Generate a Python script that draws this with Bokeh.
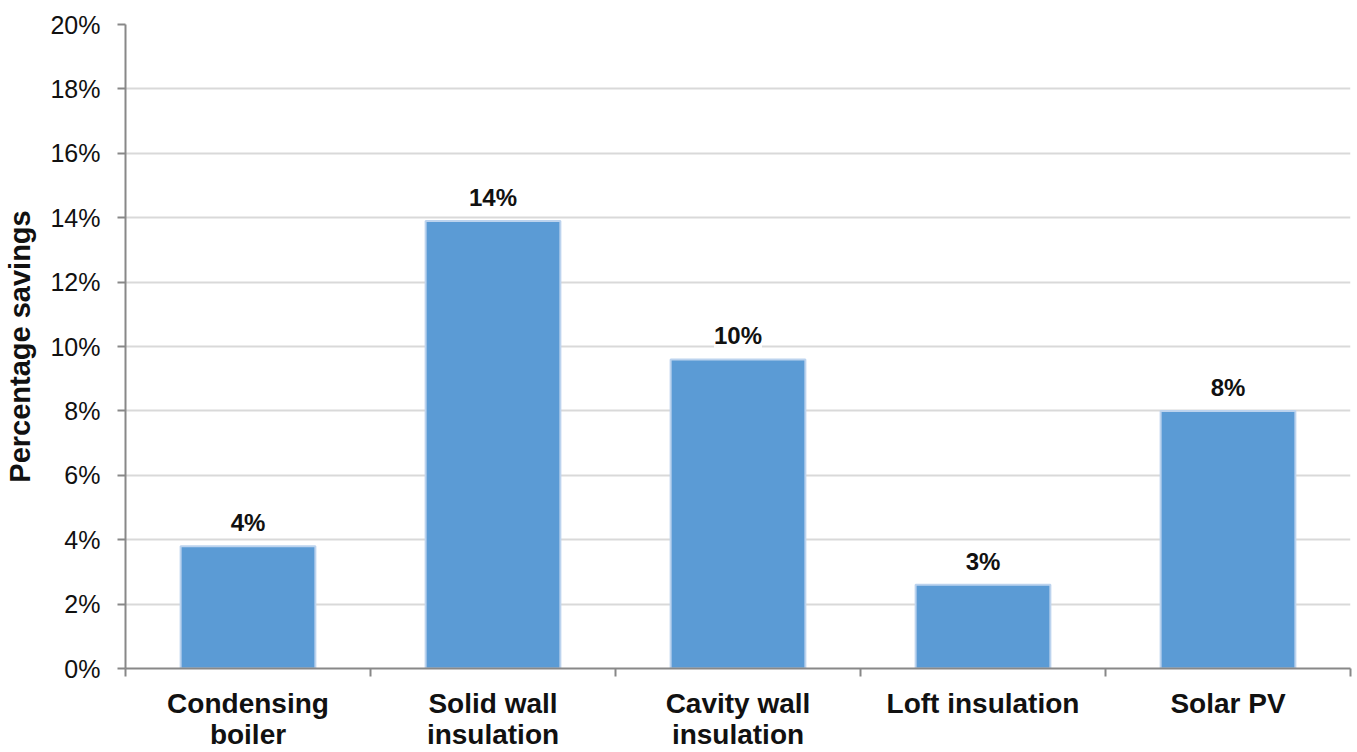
from bokeh.plotting import figure
from bokeh.models import ColumnDataSource, FixedTicker, NumeralTickFormatter, LabelSet, Range1d
from bokeh.core.properties import value
from bokeh.embed import file_html
from bokeh.resources import INLINE

categories = ["Condensing\nboiler", "Solid wall\ninsulation", "Cavity wall\ninsulation", "Loft insulation", "Solar PV"]
savings = [0.038, 0.139, 0.096, 0.026, 0.080]
labels = ["4%", "14%", "10%", "3%", "8%"]
y_ticks = [0.0, 0.02, 0.04, 0.06, 0.08, 0.10, 0.12, 0.14, 0.16, 0.18, 0.20]

xs = [i + 0.5 for i in range(len(categories))]
src = ColumnDataSource(dict(x=xs, top=savings, label=labels))

p = figure(width=1357, height=752, output_backend="svg", toolbar_location=None,
           x_range=Range1d(0, len(categories)), y_range=Range1d(0, 0.20),
           min_border_left=125, min_border_right=7, min_border_top=24, min_border_bottom=83)
p.outline_line_color = None
p.background_fill_color = "white"

p.vbar(x="x", top="top", width=0.55, bottom=0, source=src,
       fill_color="#5B9BD5", line_color="#BCD3EE", line_width=2)

lab = LabelSet(x="x", y="top", text="label", source=src, y_offset=10,
               text_align="center", text_baseline="bottom",
               text_font=value("Liberation Sans"), text_font_style="bold", text_font_size="24px",
               text_color="#111111", background_fill_color="white", background_fill_alpha=0.85)
p.add_layout(lab)

# y axis
p.yaxis.ticker = FixedTicker(ticks=y_ticks, minor_ticks=[])
p.yaxis.formatter = NumeralTickFormatter(format="0%")
p.yaxis.axis_label = "Percentage savings"
p.yaxis.axis_label_text_font = "Liberation Sans"
p.yaxis.axis_label_text_font_style = "bold"
p.yaxis.axis_label_text_font_size = "29px"
p.yaxis.axis_label_text_color = "#111111"
p.yaxis.axis_label_standoff = 11
p.yaxis.major_label_text_font = "Liberation Sans"
p.yaxis.major_label_text_font_size = "25px"
p.yaxis.major_label_text_color = "#111111"
p.yaxis.major_label_standoff = 17
p.yaxis.axis_line_color = "#888888"
p.yaxis.axis_line_width = 2
p.yaxis.major_tick_line_color = "#888888"
p.yaxis.major_tick_line_width = 2
p.yaxis.major_tick_out = 8
p.yaxis.major_tick_in = 0

# x axis
p.xaxis.ticker = FixedTicker(ticks=xs, minor_ticks=[float(i) for i in range(len(categories) + 1)])
p.xaxis.major_label_overrides = {x: c for x, c in zip(xs, categories)}
p.xaxis.major_label_text_font = "Liberation Sans"
p.xaxis.major_label_text_font_style = "bold"
p.xaxis.major_label_text_font_size = "28px"
p.xaxis.major_label_text_line_height = 1.0
p.xaxis.major_label_text_color = "#111111"
p.xaxis.major_label_standoff = 11
p.xaxis.major_tick_line_color = None
p.xaxis.major_tick_out = 8
p.xaxis.major_tick_in = 0
p.xaxis.minor_tick_line_color = "#888888"
p.xaxis.minor_tick_line_width = 2
p.xaxis.minor_tick_out = 8
p.xaxis.minor_tick_in = 0
p.xaxis.axis_line_color = "#888888"
p.xaxis.axis_line_width = 2

p.xgrid.grid_line_color = None
p.ygrid.grid_line_color = "#D9D9D9"
p.ygrid.grid_line_width = 2

open("out.html", "w").write(file_html(p, INLINE))
